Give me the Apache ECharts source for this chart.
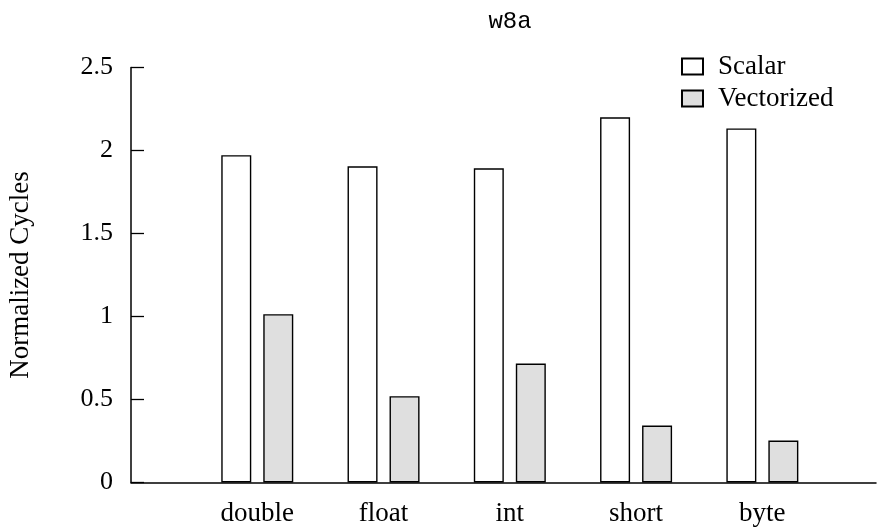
<!DOCTYPE html>
<html>
<head>
<meta charset="utf-8">
<script src="https://cdn.jsdelivr.net/npm/echarts@6/dist/echarts.min.js"></script>
<style>html,body{margin:0;padding:0;background:#fff}#c{width:878px;height:527px}</style>
</head>
<body>
<div id="c"></div>
<script>
var title = 'w8a';
var categories = ['double', 'float', 'int', 'short', 'byte'];
var scalar = [1.972, 1.905, 1.893, 2.20, 2.133];
var vectorized = [1.014, 0.52, 0.717, 0.343, 0.253];
var yTickLabels = ['0', '0.5', '1', '1.5', '2', '2.5'];

var serif = 'Liberation Serif';
var chart = echarts.init(document.getElementById('c'), null, {renderer: 'canvas'});
function pairs(arr) { return arr.map(function (v, i) { return [i + 1, v]; }); }

chart.setOption({
  animation: false,
  backgroundColor: '#fff',
  graphic: [{
    type: 'text',
    x: 510,
    y: 22,
    style: {
      text: title,
      fontFamily: 'Liberation Mono',
      fontSize: 24,
      fill: '#000',
      align: 'center',
      verticalAlign: 'middle'
    }
  }],
  legend: {
    orient: 'vertical',
    left: 681,
    top: 53,
    padding: 0,
    itemWidth: 21,
    itemHeight: 16,
    itemGap: 5,
    icon: 'rect',
    textStyle: {fontFamily: serif, fontSize: 27, color: '#000', lineHeight: 27, padding: [0, 0, 0, 10]},
    data: ['Scalar', 'Vectorized']
  },
  grid: {left: 131, right: 2, top: 67.5, bottom: 44.5, containLabel: false, outerBoundsMode: 'none'},
  xAxis: {
    type: 'value',
    min: 0,
    max: 5.9,
    interval: 1,
    axisLine: {show: true, lineStyle: {color: '#000', width: 1.5}},
    axisTick: {show: false},
    splitLine: {show: false},
    axisLabel: {
      margin: 18,
      fontFamily: serif,
      fontSize: 27,
      color: '#000',
      showMaxLabel: false,
      formatter: function (v) {
        var i = Math.round(v);
        if (Math.abs(v - i) < 1e-6 && i >= 1 && i <= categories.length) return categories[i - 1];
        return '';
      }
    }
  },
  yAxis: {
    type: 'value',
    min: 0,
    max: 2.5,
    interval: 0.5,
    name: 'Normalized Cycles',
    nameLocation: 'middle',
    nameGap: 97,
    nameTextStyle: {fontFamily: serif, fontSize: 27, color: '#000'},
    axisLine: {show: true, lineStyle: {color: '#000', width: 1.5}},
    axisTick: {show: true, inside: true, length: 13, lineStyle: {color: '#000', width: 1.3}},
    splitLine: {show: false},
    axisLabel: {
      margin: 18,
      fontFamily: serif,
      fontSize: 26,
      color: '#000',
      formatter: function (v) { return yTickLabels[Math.round(v / 0.5)]; }
    }
  },
  series: [
    {
      name: 'Scalar',
      type: 'bar',
      barWidth: 30,
      barGap: '40%',
      data: pairs(scalar),
      itemStyle: {color: '#ffffff', borderColor: '#000', borderWidth: 1.4}
    },
    {
      name: 'Vectorized',
      type: 'bar',
      barWidth: 30,
      barGap: '40%',
      data: pairs(vectorized),
      itemStyle: {color: '#dfdfdf', borderColor: '#000', borderWidth: 1.4}
    }
  ]
});
</script>
</body>
</html>
